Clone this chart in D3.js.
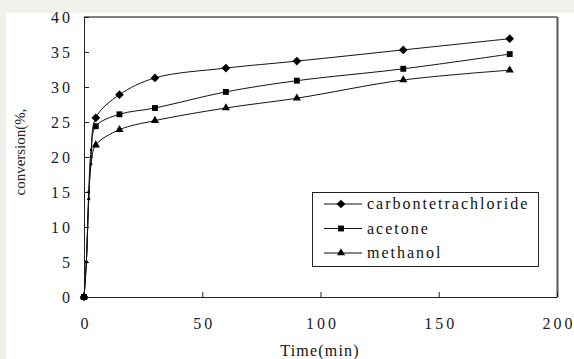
<!DOCTYPE html>
<html><head><meta charset="utf-8">
<script src="https://cdn.jsdelivr.net/npm/d3@7"></script>
<style>body{margin:0;background:#fff}svg{display:block}</style>
</head><body>
<script>
const times = [0, 1, 2, 3, 5, 15, 30, 60, 90, 135, 180];
const carbon = [0, 5, 14, 20, 25.6, 28.9, 31.3, 32.7, 33.7, 35.3, 36.9];
const acetone = [0, 5, 15, 21, 24.4, 26.1, 27.0, 29.3, 30.9, 32.6, 34.7];
const methanol = [0, 5, 14, 19, 21.7, 23.9, 25.2, 27.0, 28.4, 31.0, 32.4];
const seriesNames = ["carbontetrachloride", "acetone", "methanol"];
const xTicks = [0, 50, 100, 150, 200];
const yTicks = [0, 5, 10, 15, 20, 25, 30, 35, 40];

const W = 574, H = 359;
const svg = d3.select("body").append("svg").attr("width", W).attr("height", H);
svg.append("rect").attr("width", W).attr("height", H).attr("fill", "#f2f2ed");
svg.append("rect").attr("x", 6).attr("y", 13).attr("width", W - 6).attr("height", H - 13).attr("fill", "#fff");

const x = d3.scaleLinear().domain([0, 200]).range([84, 557]);
const y = d3.scaleLinear().domain([0, 40]).range([297, 17]);
const serif = "Liberation Serif";

// plot frame
svg.append("line").attr("x1", x(0)).attr("x2", x(200)).attr("y1", y(40)).attr("y2", y(40)).attr("stroke", "#000");
svg.append("line").attr("x1", x(200) + 0.5).attr("x2", x(200) + 0.5).attr("y1", y(40)).attr("y2", y(0)).attr("stroke", "#555").attr("stroke-width", 2);

const xAxis = svg.append("g").attr("transform", `translate(0,${y(0)})`)
  .call(d3.axisBottom(x).tickValues(xTicks).tickSizeInner(-5).tickSizeOuter(0).tickPadding(18));
const yAxis = svg.append("g").attr("transform", `translate(${x(0)},0)`)
  .call(d3.axisLeft(y).tickValues(yTicks).tickSizeInner(-5).tickSizeOuter(0).tickPadding(14));
[xAxis, yAxis].forEach(g => {
  g.attr("font-family", serif);
  g.selectAll("path,line").attr("stroke", "#222");
  g.selectAll("text").attr("font-family", serif).attr("font-size", 16).attr("fill", "#1a1a2e").attr("letter-spacing", 3);
});
xAxis.selectAll(".tick text").attr("dy", "0.9em").attr("dx", 1.5);
yAxis.selectAll(".tick text").attr("dx", 3);

svg.append("text").attr("x", 320).attr("y", 356).attr("text-anchor", "middle")
  .attr("font-family", serif).attr("font-size", 16).attr("letter-spacing", 1.2).attr("fill", "#111").text("Time(min)");
svg.append("text").attr("transform", "translate(25,152) rotate(-90)").attr("text-anchor", "middle")
  .attr("font-family", serif).attr("font-size", 15).attr("fill", "#222").text("conversion(%,");

const data = [carbon, acetone, methanol];
const symbols = [d3.symbolDiamond2, d3.symbolSquare2, d3.symbolTriangle2];
const symSize = [48, 44, 48];
const line = d3.line().x(d => x(d[0])).y(d => y(d[1])).curve(d3.curveCatmullRom.alpha(0.5));

data.forEach((vals, i) => {
  const pts = times.map((t, j) => [t, vals[j]]);
  svg.append("path").attr("d", line(pts)).attr("fill", "none").attr("stroke", "#111").attr("stroke-width", 1);
  svg.append("g").selectAll("path").data(pts).join("path")
    .attr("transform", d => `translate(${x(d[0])},${y(d[1])})`)
    .attr("d", (d, j) => d3.symbol(symbols[i], (j > 0 && j < 4) ? 8 : symSize[i])())
    .attr("fill", "#000");
});

// legend
const lg = svg.append("g");
lg.append("rect").attr("x", 312.5).attr("y", 192.5).attr("width", 226).attr("height", 74)
  .attr("fill", "#fff").attr("stroke", "#222");
seriesNames.forEach((name, i) => {
  const yy = 204 + i * 24.5;
  lg.append("line").attr("x1", 324).attr("x2", 362).attr("y1", yy).attr("y2", yy).attr("stroke", "#111");
  lg.append("path").attr("transform", `translate(341,${yy})`).attr("d", d3.symbol(symbols[i], symSize[i])()).attr("fill", "#000");
  lg.append("text").attr("x", 367).attr("y", yy).attr("dy", "0.32em")
    .attr("font-family", serif).attr("font-size", 16).attr("letter-spacing", 2).attr("fill", "#111").text(name);
});
</script>
</body></html>
